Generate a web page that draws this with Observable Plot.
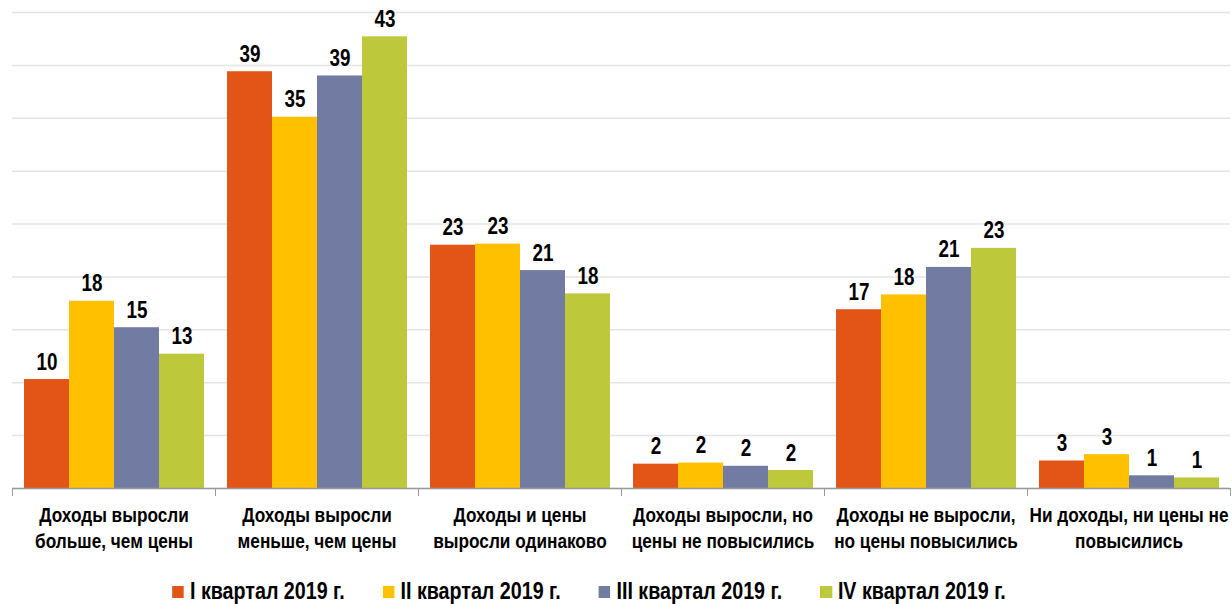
<!DOCTYPE html>
<html><head><meta charset="utf-8">
<script src="https://cdn.jsdelivr.net/npm/d3@7"></script>
<script src="https://cdn.jsdelivr.net/npm/@observablehq/plot@0.6"></script>
<style>
body{margin:0;background:#fff;font-family:"Liberation Sans",Arial,sans-serif;overflow:hidden;}
#legend{display:flex;align-items:center;height:36px;padding-top:10px;font-size:24px;font-weight:bold;color:#000;line-height:26px;
  transform:scaleX(0.82);transform-origin:0 0;width:1502px;padding-left:209.8px;box-sizing:border-box;white-space:nowrap;}
.item{display:flex;align-items:center;margin-right:46px;}
.sw{width:14.6px;height:12px;margin-right:7.3px;margin-top:2px;}
</style></head><body><div id="chart"></div><div id="legend"></div>
<script>
const categories = [
  "Доходы выросли\nбольше, чем цены",
  "Доходы выросли\nменьше, чем цены",
  "Доходы и цены\nвыросли одинаково",
  "Доходы выросли, но\nцены не повысились",
  "Доходы не выросли,\nно цены повысились",
  "Ни доходы, ни цены не\nповысились"
];
const series = ["I квартал 2019 г.", "II квартал 2019 г.", "III квартал 2019 г.", "IV квартал 2019 г."];
const colors = ["#E35417", "#FFC000", "#727CA3", "#BDC83A"];
const q1 = [10.3, 39.4, 23.0, 2.3, 16.9, 2.6];
const q2 = [17.7, 35.1, 23.1, 2.4, 18.3, 3.2];
const q3 = [15.2, 39.0, 20.6, 2.1, 20.9, 1.2];
const q4 = [12.7, 42.7, 18.4, 1.7, 22.7, 1.0];
const values = [q1, q2, q3, q4];

const data = [];
categories.forEach((c, i) => series.forEach((s, j) => data.push({cat: c, s, v: values[j][i]})));

const font = '"Liberation Sans",Arial,sans-serif';
const chart = Plot.plot({
  width: 1232, height: 568,
  marginTop: 12, marginBottom: 80, marginLeft: 11, marginRight: 2,
  style: {fontFamily: font, background: "#fff"},
  fx: {domain: categories, padding: 0, axis: null},
  x: {domain: series, paddingInner: 0, paddingOuter: 0.25, axis: null},
  y: {domain: [0, 45], axis: null},
  color: {domain: series, range: colors},
  marks: [
    Plot.gridY({interval: 5, stroke: "#e4e4e4", strokeOpacity: 1, strokeWidth: 1.5}),
    Plot.barY(data, {fx: "cat", x: "s", y: "v", fill: "s", inset: 0}),
    Plot.text(data, {fx: "cat", x: "s", y: "v", text: d => String(Math.round(d.v)), lineAnchor: "bottom", dy: -10, fontSize: 23, fontWeight: "bold", fill: "#000"}),
    Plot.ruleY([0], {stroke: "#9a9a9a", strokeWidth: 1.5}),
    Plot.frame({anchor: "left", stroke: "#9a9a9a", insetTop: 476, insetBottom: -7}),
    Plot.frame({anchor: "right", stroke: "#9a9a9a", insetTop: 476, insetBottom: -7}),
    Plot.axisFx({anchor: "bottom", tickSize: 0, tickPadding: 16, fontSize: 21, fontWeight: "bold", lineHeight: 1.2, label: null, fill: "#000"})
  ]
});
document.getElementById("chart").appendChild(chart);

// condensed look: narrow each text horizontally around its anchor
d3.select(chart).selectAll("text").each(function() {
  const t = this.getAttribute("transform") || "";
  this.setAttribute("transform", (t + " scale(0.82,1)").trim());
});

const legend = document.getElementById("legend");
series.forEach((s, j) => {
  const it = document.createElement("div");
  it.className = "item";
  const sw = document.createElement("span");
  sw.className = "sw"; sw.style.background = colors[j];
  const t = document.createElement("span");
  t.textContent = s;
  it.appendChild(sw); it.appendChild(t);
  legend.appendChild(it);
});
</script></body></html>
